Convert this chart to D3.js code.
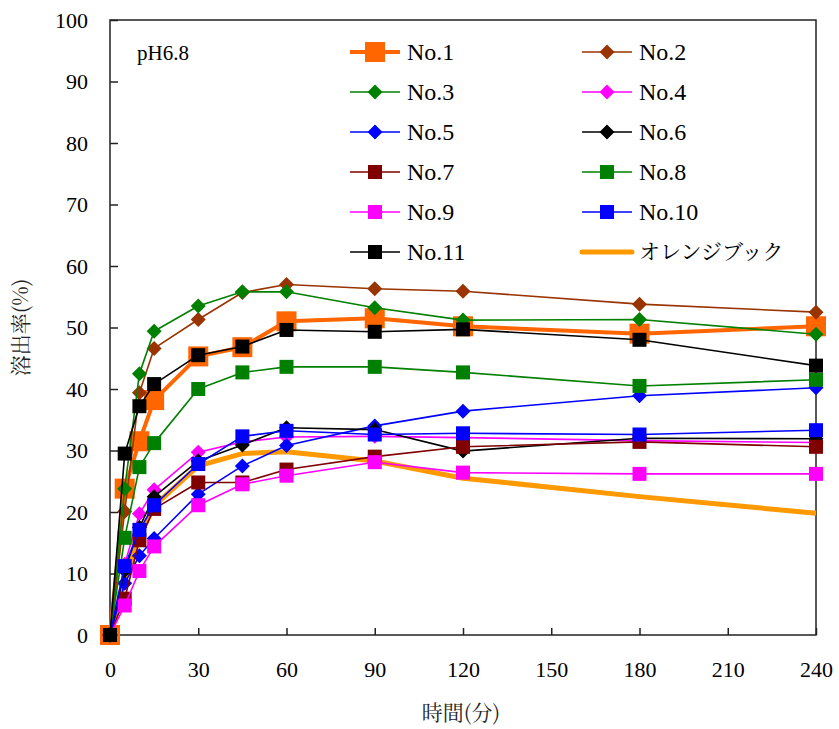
<!DOCTYPE html>
<html><head><meta charset="utf-8">
<script src="https://cdn.jsdelivr.net/npm/d3@7"></script>
<style>body{margin:0;background:#fff}svg{display:block}</style>
</head><body>
<script>
const times = [0, 5, 10, 15, 30, 45, 60, 90, 120, 180, 240];
const xTicks = [0, 30, 60, 90, 120, 150, 180, 210, 240];
const yTicks = [0, 10, 20, 30, 40, 50, 60, 70, 80, 90, 100];
const names = ["No.1","No.2","No.3","No.4","No.5","No.6","No.7","No.8","No.9","No.10","No.11"];
const no1  = [0, 23.8, 31.5, 38.2, 45.3, 46.8, 51.0, 51.5, 50.2, 49.0, 50.2];
const no2  = [0, 20.1, 39.4, 46.6, 51.3, 55.7, 57.0, 56.3, 55.9, 53.8, 52.5];
const no3  = [0, 23.8, 42.5, 49.4, 53.5, 55.8, 55.8, 53.2, 51.2, 51.3, 48.9];
const no4  = [0, 11.5, 19.7, 23.6, 29.7, 31.4, 32.2, 32.3, 32.1, 31.6, 31.3];
const no5  = [0, 8.4, 12.9, 15.7, 22.9, 27.5, 30.8, 34.0, 36.4, 38.9, 40.2];
const no6  = [0, 10.5, 17.5, 22.5, 28.3, 30.9, 33.7, 33.4, 29.9, 32.0, 31.9];
const no7  = [0, 5.9, 15.4, 20.5, 24.8, 24.8, 26.9, 29.0, 30.6, 31.4, 30.6];
const no8  = [0, 15.8, 27.3, 31.2, 40.0, 42.7, 43.6, 43.6, 42.7, 40.5, 41.5];
const no9  = [0, 4.8, 10.4, 14.4, 21.1, 24.5, 25.9, 28.1, 26.4, 26.2, 26.2];
const no10 = [0, 11.2, 17.1, 21.1, 27.8, 32.3, 33.2, 32.6, 32.8, 32.6, 33.3];
const no11 = [0, 29.5, 37.2, 40.8, 45.5, 46.9, 49.6, 49.3, 49.7, 48.0, 43.8];
const orangeBook = [0, 9.0, 16.0, 21.0, 27.5, 29.5, 29.8, 28.3, 25.5, 22.5, 19.8];
const seriesValues = [no1,no2,no3,no4,no5,no6,no7,no8,no9,no10,no11];
const colors = ["#FF6600","#993300","#008000","#FF00FF","#0000FF","#000000","#800000","#008000","#FF00FF","#0000FF","#000000"];
const shapes = ["square","diamond","diamond","diamond","diamond","diamond","square","square","square","square","square"];
const obName = "オレンジブック";
const obColor = "#FF9900";

const W = 839, H = 729;
const L = 110, R = 816, T = 20, B = 635;
const SERIF = "Liberation Serif";
const JP = "Noto Serif CJK JP";
const svg = d3.select("body").append("svg").attr("width", W).attr("height", H);
const x = d3.scaleLinear().domain([0, 240]).range([L, R]);
const y = d3.scaleLinear().domain([0, 100]).range([B, T]);

// frame
svg.append("rect").attr("x", L).attr("y", T).attr("width", R - L).attr("height", B - T)
  .attr("fill", "none").attr("stroke", "#222").attr("stroke-width", 1.5);

// axes
const yAxis = d3.axisLeft(y).tickValues(yTicks).tickSize(-8).tickPadding(22).tickFormat(d3.format("d"));
const gy = svg.append("g").attr("transform", `translate(${L},0)`).call(yAxis);
const xAxis = d3.axisBottom(x).tickValues(xTicks).tickSize(-7).tickPadding(22).tickFormat(d3.format("d"));
const gx = svg.append("g").attr("transform", `translate(0,${B})`).call(xAxis);
[gx, gy].forEach(g => {
  g.attr("font-family", SERIF).attr("font-size", 22);
  g.select(".domain").remove();
  g.selectAll(".tick line").attr("stroke", "#222").attr("stroke-width", 1.5);
  g.selectAll(".tick text").attr("font-family", SERIF).attr("font-size", 22).attr("fill", "#000");
});
gx.selectAll(".tick text").attr("dy", "0.9em");

// axis titles
svg.append("text").attr("x", (L + R) / 2 - 2).attr("y", 720).attr("text-anchor", "middle")
  .attr("font-family", JP).attr("font-size", 21).attr("fill", "#222").text("時間(分)");
svg.append("text").attr("transform", `translate(28,${(T + B) / 2}) rotate(-90)`).attr("text-anchor", "middle")
  .attr("font-family", JP).attr("font-size", 21).attr("fill", "#222").text("溶出率(%)");

svg.append("text").attr("x", 137).attr("y", 60).attr("font-family", SERIF).attr("font-size", 21).text("pH6.8");

const line = d3.line().x((d, i) => x(times[i])).y(d => y(d));

function marker(g, shape, cx, cy, color, big) {
  if (shape === "square") {
    const s = big ? 20 : 14;
    g.append("rect").attr("x", cx - s / 2).attr("y", cy - s / 2).attr("width", s).attr("height", s).attr("fill", color);
  } else {
    const r = 7.5;
    g.append("path").attr("d", `M${cx},${cy - r}L${cx + r},${cy}L${cx},${cy + r}L${cx - r},${cy}Z`).attr("fill", color);
  }
}

// orange book (behind)
svg.append("path").datum(orangeBook).attr("d", line).attr("fill", "none")
  .attr("stroke", obColor).attr("stroke-width", 5).attr("stroke-linejoin", "round");

seriesValues.forEach((vals, k) => {
  const g = svg.append("g");
  g.append("path").datum(vals).attr("d", line).attr("fill", "none")
    .attr("stroke", colors[k]).attr("stroke-width", k === 0 ? 4 : 1.6).attr("stroke-linejoin", "round");
  vals.forEach((v, i) => marker(g, shapes[k], x(times[i]), y(v), colors[k], k === 0));
});

// legend
const legItems = names.map((n, k) => ({name: n, color: colors[k], shape: shapes[k], big: k === 0}));
legItems.push({name: obName, color: obColor, shape: null});
legItems.forEach((it, k) => {
  const col = k % 2, row = Math.floor(k / 2);
  const x0 = col === 0 ? 350 : 582;
  const yy = 52 + row * 40;
  const g = svg.append("g");
  g.append("line").attr("x1", x0).attr("x2", x0 + 50).attr("y1", yy).attr("y2", yy)
    .attr("stroke", it.color).attr("stroke-width", it.shape === null ? 5 : (it.big ? 4 : 1.6))
    .attr("stroke-linecap", it.shape === null ? "round" : "butt");
  if (it.shape) marker(g, it.shape, x0 + 25, yy, it.color, it.big);
  const isJp = it.shape === null;
  g.append("text").attr("x", x0 + 57).attr("y", yy).attr("dy", "0.35em")
    .attr("font-family", isJp ? JP : SERIF).attr("font-size", isJp ? 21 : 24).attr("fill", "#000").text(it.name);
});
</script>
</body></html>
